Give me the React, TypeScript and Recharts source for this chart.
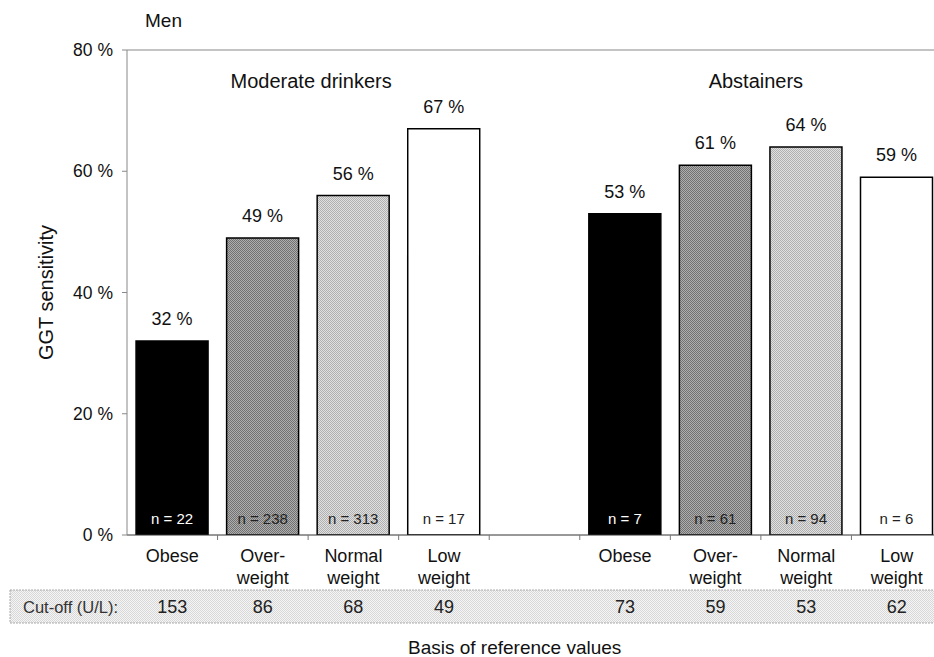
import { BarChart, Bar, XAxis, YAxis, Cell, LabelList, ReferenceLine } from "recharts";

// slot 4 is the empty gap between the two groups
const TICK_LINES = [
  ["Obese"],
  ["Over-", "weight"],
  ["Normal", "weight"],
  ["Low", "weight"],
  [],
  ["Obese"],
  ["Over-", "weight"],
  ["Normal", "weight"],
  ["Low", "weight"],
];
const SENSITIVITY = [32, 49, 56, 67, null, 53, 61, 64, 59];
const N_COUNTS = [22, 238, 313, 17, null, 7, 61, 94, 6];
const CUTOFFS = [153, 86, 68, 49, null, 73, 59, 53, 62];
const GROUPS = ["Moderate drinkers", "Abstainers"];
const Y_TICKS = [0, 20, 40, 60, 80];

const rows = SENSITIVITY.map((v, i) => ({ slot: i, value: v, n: N_COUNTS[i] }));

const FONT = "'Liberation Sans', Arial, sans-serif";
const FILLS = ["#000", "url(#darkDots)", "url(#lightDots)", "#fff"];
const posInGroup = (i: number) => (i < 4 ? i : i - 5);

const W = 942;
const H = 657;
const LEFT = 127;
const SLOT = (W - LEFT) / TICK_LINES.length;

function CategoryTick(props: any) {
  const { x, y, payload } = props;
  const i = payload.value as number;
  const lines = TICK_LINES[i] || [];
  const cut = CUTOFFS[i];
  return (
    <g>
      <line x1={x + SLOT / 2} x2={x + SLOT / 2} y1={y} y2={y + 5} stroke="#777" />
      {lines.map((l, k) => (
        <text key={k} x={x} y={y + 27 + k * 22} textAnchor="middle" fontSize={18} fill="#111" fontFamily={FONT}>
          {l}
        </text>
      ))}
      {cut != null && (
        <text x={x} y={y + 78} textAnchor="middle" fontSize={18} fill="#222" fontFamily={FONT}>
          {cut}
        </text>
      )}
    </g>
  );
}

function CountLabel(props: any) {
  const { x, y, width, height, value } = props;
  const n = N_COUNTS[value as number];
  if (n == null) return null;
  return (
    <text
      x={x + width / 2}
      y={y + height - 11}
      textAnchor="middle"
      fontSize={15}
      fill={posInGroup(value) === 0 ? "#fff" : "#222"}
      fontFamily={FONT}
    >
      n = {n}
    </text>
  );
}

function ValueLabel(props: any) {
  const { x, y, width, value } = props;
  if (value == null) return null;
  return (
    <text x={x + width / 2} y={y - 16} textAnchor="middle" fontSize={18} fill="#111" fontFamily={FONT}>
      {value} %
    </text>
  );
}

export default function App() {
  return (
    <div style={{ position: "absolute", left: 0, top: 0, width: 934, height: 657, overflow: "hidden", background: "#fff", fontFamily: FONT }}>
      <BarChart width={W} height={H} data={rows} margin={{ top: 50, right: 0, bottom: 22, left: 0 }} barCategoryGap="10%">
        <defs>
          <pattern id="darkDots" width="2" height="2" patternUnits="userSpaceOnUse">
            <rect width="2" height="2" fill="#aeaeae" />
            <rect width="1" height="1" fill="#727272" />
            <rect x="1" y="1" width="1" height="1" fill="#727272" />
          </pattern>
          <pattern id="lightDots" width="2" height="2" patternUnits="userSpaceOnUse">
            <rect width="2" height="2" fill="#e0e0e0" />
            <rect width="1" height="1" fill="#b0b0b0" />
            <rect x="1" y="1" width="1" height="1" fill="#b0b0b0" />
          </pattern>
          <pattern id="rowDots" width="2" height="2" patternUnits="userSpaceOnUse">
            <rect width="2" height="2" fill="#f5f5f5" />
            <rect width="1" height="1" fill="#d8d8d8" />
            <rect x="1" y="1" width="1" height="1" fill="#d8d8d8" />
          </pattern>
        </defs>
        <rect x={10} y={590} width={940} height={33} fill="url(#rowDots)" stroke="#aaa" strokeDasharray="2 1" />
        <text x={23} y={613} fontSize={16.5} fill="#333" fontFamily={FONT}>
          Cut-off (U/L):
        </text>
        <text x={145} y={27} fontSize={19} fill="#111" fontFamily={FONT}>
          Men
        </text>
        <text x={LEFT + SLOT * 2 + 3} y={88} textAnchor="middle" fontSize={20} fill="#111" fontFamily={FONT}>
          {GROUPS[0]}
        </text>
        <text x={LEFT + SLOT * 7 - 5} y={88} textAnchor="middle" fontSize={20} fill="#111" fontFamily={FONT}>
          {GROUPS[1]}
        </text>
        <text x={408} y={654} fontSize={19} fill="#111" fontFamily={FONT}>
          Basis of reference values
        </text>
        <XAxis
          dataKey="slot"
          type="category"
          height={100}
          axisLine={{ stroke: "#333" }}
          tickLine={false}
          tickSize={0}
          tickMargin={0}
          interval={0}
          tick={(p: any) => <CategoryTick {...p} />}
        />
        <YAxis
          width={LEFT}
          domain={[0, 80]}
          ticks={Y_TICKS}
          allowDataOverflow
          tickFormatter={(v: number) => `${v} %`}
          axisLine={{ stroke: "#888" }}
          tickLine={{ stroke: "#888" }}
          tickSize={5}
          tickMargin={9}
          tick={{ fontSize: 17.5, fill: "#111", fontFamily: FONT }}
          label={{ value: "GGT sensitivity", angle: -90, position: "center", dx: -18, fontSize: 20, fill: "#111", fontFamily: FONT }}
        />
        <ReferenceLine y={80} stroke="#888" />
        <Bar dataKey="value" isAnimationActive={false} stroke="#000" strokeWidth={1.5}>
          {rows.map((r) => (
            <Cell key={r.slot} fill={FILLS[posInGroup(r.slot)]} />
          ))}
          <LabelList dataKey="value" content={(p: any) => <ValueLabel {...p} />} />
          <LabelList dataKey="slot" content={(p: any) => <CountLabel {...p} />} />
        </Bar>
      </BarChart>
    </div>
  );
}
